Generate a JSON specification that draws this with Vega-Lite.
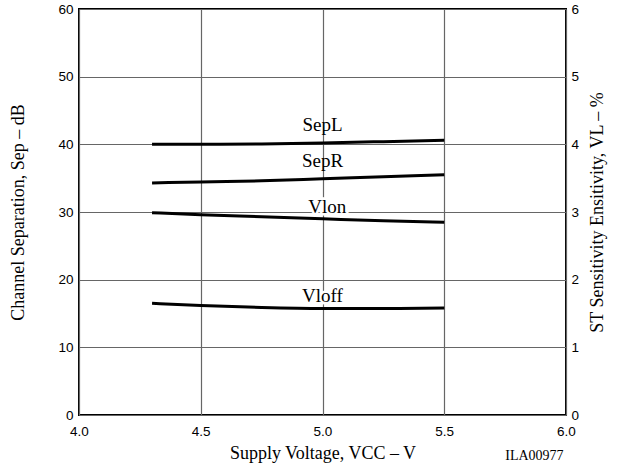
{
  "$schema": "https://vega.github.io/schema/vega-lite/v6.json",
  "width": 487,
  "height": 406,
  "autosize": {"type": "none"},
  "padding": {"left": 79, "top": 9, "right": 62, "bottom": 53},
  "background": "white",
  "config": {
    "view": {"stroke": "black", "strokeWidth": 2},
    "axis": {
      "labelFont": "Liberation Sans",
      "labelFontSize": 13.5,
      "labelColor": "black",
      "labelFlush": false,
      "titleFont": "Liberation Serif",
      "titleFontSize": 18,
      "titleFontWeight": "normal",
      "titleColor": "black",
      "ticks": false,
      "domain": false,
      "gridColor": "#666666",
      "gridWidth": 1.2,
      "gridOpacity": 1
    }
  },
  "datasets": {
    "sep": [
      {"v": 4.3, "db": 40.0, "s": "SepL"},
      {"v": 4.5, "db": 40.0, "s": "SepL"},
      {"v": 4.75, "db": 40.05, "s": "SepL"},
      {"v": 5.0, "db": 40.2, "s": "SepL"},
      {"v": 5.25, "db": 40.4, "s": "SepL"},
      {"v": 5.5, "db": 40.6, "s": "SepL"},
      {"v": 4.3, "db": 34.3, "s": "SepR"},
      {"v": 4.5, "db": 34.45, "s": "SepR"},
      {"v": 4.75, "db": 34.6, "s": "SepR"},
      {"v": 5.0, "db": 34.9, "s": "SepR"},
      {"v": 5.25, "db": 35.2, "s": "SepR"},
      {"v": 5.5, "db": 35.5, "s": "SepR"}
    ],
    "vl": [
      {"v": 4.3, "pct": 2.99, "s": "Vlon"},
      {"v": 4.5, "pct": 2.96, "s": "Vlon"},
      {"v": 4.75, "pct": 2.93, "s": "Vlon"},
      {"v": 5.0, "pct": 2.9, "s": "Vlon"},
      {"v": 5.25, "pct": 2.87, "s": "Vlon"},
      {"v": 5.5, "pct": 2.85, "s": "Vlon"},
      {"v": 4.3, "pct": 1.65, "s": "Vloff"},
      {"v": 4.5, "pct": 1.62, "s": "Vloff"},
      {"v": 4.75, "pct": 1.59, "s": "Vloff"},
      {"v": 5.0, "pct": 1.575, "s": "Vloff"},
      {"v": 5.25, "pct": 1.575, "s": "Vloff"},
      {"v": 5.5, "pct": 1.58, "s": "Vloff"}
    ],
    "seplab": [
      {"v": 5.0, "db": 42.9, "label": "SepL"},
      {"v": 5.0, "db": 37.6, "label": "SepR"}
    ],
    "vllab": [
      {"v": 5.02, "pct": 3.08, "label": "Vlon"},
      {"v": 5.0, "pct": 1.76, "label": "Vloff"}
    ],
    "note": [
      {"v": 5.99, "db": -6.0, "label": "ILA00977"}
    ]
  },
  "encoding": {
    "x": {
      "field": "v",
      "type": "quantitative",
      "scale": {"domain": [4, 6], "nice": false, "zero": false},
      "axis": {
        "title": "Supply Voltage, VCC – V",
        "values": [4, 4.5, 5, 5.5, 6],
        "format": ".1f",
        "grid": true,
        "labelPadding": 9,
        "titlePadding": 7
      }
    }
  },
  "layer": [
    {
      "data": {"name": "sep"},
      "mark": {"type": "line", "color": "black", "strokeWidth": 3, "interpolate": "monotone"},
      "encoding": {
        "y": {
          "field": "db",
          "type": "quantitative",
          "scale": {"domain": [0, 60], "nice": false},
          "axis": {
            "title": "Channel Separation, Sep – dB",
            "values": [0, 10, 20, 30, 40, 50, 60],
            "grid": true,
            "labelPadding": 6,
            "titlePadding": 30
          }
        },
        "detail": {"field": "s"}
      }
    },
    {
      "data": {"name": "seplab"},
      "mark": {"type": "text", "font": "Liberation Serif", "fontSize": 19, "color": "black", "baseline": "middle"},
      "encoding": {
        "y": {"field": "db", "type": "quantitative", "scale": {"domain": [0, 60], "nice": false}, "axis": null},
        "text": {"field": "label"}
      }
    },
    {
      "data": {"name": "note"},
      "mark": {"type": "text", "font": "Liberation Serif", "fontSize": 14, "color": "black", "baseline": "middle", "align": "right"},
      "encoding": {
        "y": {"field": "db", "type": "quantitative", "scale": {"domain": [0, 60], "nice": false}, "axis": null},
        "text": {"field": "label"}
      }
    },
    {
      "data": {"name": "vllab"},
      "mark": {"type": "text", "font": "Liberation Serif", "fontSize": 19, "color": "black", "baseline": "middle", "stroke": "white", "strokeWidth": 5},
      "encoding": {
        "y": {"field": "pct", "type": "quantitative", "scale": {"domain": [0, 6], "nice": false}, "axis": null},
        "text": {"field": "label"}
      }
    },
    {
      "data": {"name": "vl"},
      "mark": {"type": "line", "color": "black", "strokeWidth": 3, "interpolate": "monotone"},
      "encoding": {
        "y": {
          "field": "pct",
          "type": "quantitative",
          "scale": {"domain": [0, 6], "nice": false},
          "axis": {
            "orient": "right",
            "title": "ST Sensitivity Ensitivity, VL – %",
            "titleAngle": 270,
            "values": [0, 1, 2, 3, 4, 5, 6],
            "grid": false,
            "labelPadding": 5,
            "titlePadding": 28
          }
        },
        "detail": {"field": "s"}
      }
    },
    {
      "data": {"name": "vllab"},
      "mark": {"type": "text", "font": "Liberation Serif", "fontSize": 19, "color": "black", "baseline": "middle"},
      "encoding": {
        "y": {"field": "pct", "type": "quantitative", "scale": {"domain": [0, 6], "nice": false}, "axis": null},
        "text": {"field": "label"}
      }
    }
  ],
  "resolve": {"scale": {"y": "independent"}}
}
